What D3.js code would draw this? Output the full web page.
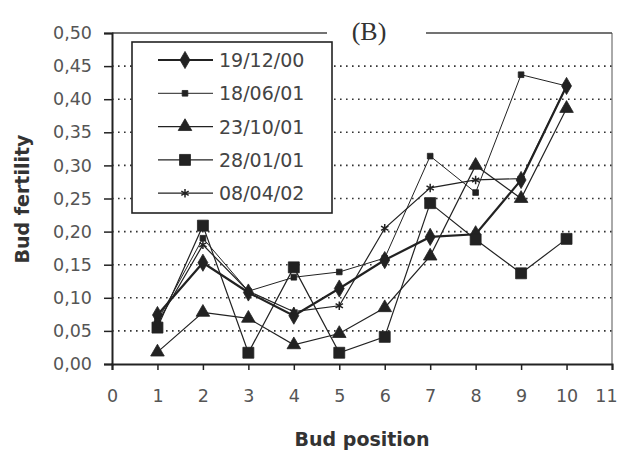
<!DOCTYPE html>
<html lang="en">
<head>
<meta charset="UTF-8">
<title>Bud fertility (B)</title>
<script src="https://d3js.org/d3.v7.min.js"></script>
<style>
  body { margin: 0; background: #fff; }
  .tick text { font-family: "DejaVu Sans", Verdana, sans-serif; font-size: 17.5px; fill: #555; }
  .axis-label { font-family: "DejaVu Sans", Verdana, sans-serif; font-size: 19px; font-weight: bold; fill: #333; }
  .legend text { font-family: "DejaVu Sans", Verdana, sans-serif; font-size: 19px; fill: #444; }
</style>
</head>
<body>
<div id="chart"></div>
<script>
// data
const positions = [1, 2, 3, 4, 5, 6, 7, 8, 9, 10];
const s191200 = [0.074, 0.153, 0.108, 0.073, 0.114, 0.157, 0.192, 0.196, 0.278, 0.420];
const s180601 = [0.065, 0.190, 0.110, 0.131, 0.139, 0.160, 0.314, 0.259, 0.437, 0.420];
const s231001 = [0.018, 0.078, 0.069, 0.029, 0.046, 0.085, 0.163, 0.300, 0.250, 0.386];
const s280101 = [0.055, 0.209, 0.017, 0.146, 0.017, 0.041, 0.243, 0.188, 0.137, 0.189];
const s080402 = [0.062, 0.180, 0.110, 0.079, 0.088, 0.205, 0.266, 0.278, 0.280, 0.420];
const seriesNames = ["19/12/00", "18/06/01", "23/10/01", "28/01/01", "08/04/02"];
const xTicks = [0, 1, 2, 3, 4, 5, 6, 7, 8, 9, 10, 11];
const yTicks = [0, 0.05, 0.10, 0.15, 0.20, 0.25, 0.30, 0.35, 0.40, 0.45, 0.50];
const gridValues = [0.05, 0.10, 0.15, 0.20, 0.25, 0.30, 0.35, 0.40, 0.45];

const series = [
  { name: seriesNames[0], values: s191200, symbol: d3.symbolDiamond, size: 85, width: 2.2, fill: "#222" },
  { name: seriesNames[1], values: s180601, symbol: d3.symbolSquare, size: 32, width: 1, fill: "#222" },
  { name: seriesNames[2], values: s231001, symbol: d3.symbolTriangle, size: 80, width: 1.2, fill: "#222" },
  { name: seriesNames[3], values: s280101, symbol: d3.symbolSquare, size: 120, width: 1.2, fill: "#222" },
  { name: seriesNames[4], values: s080402, symbol: d3.symbolAsterisk, size: 50, width: 1.2, fill: "none" }
];

const W = 619, H = 452;
const plotLeft = 112, plotRight = 612, plotTop = 33, plotBottom = 364;

const svg = d3.select("#chart").append("svg")
  .attr("width", W).attr("height", H);

const x = d3.scaleLinear().domain([0, 11]).range([plotLeft, plotRight]);
const y = d3.scaleLinear().domain([0, 0.5]).range([plotBottom, plotTop]);

const loc = d3.formatLocale({ decimal: ",", thousands: ".", grouping: [3], currency: ["", ""] });
const yFmt = loc.format(".2f");

// dotted gridlines
svg.append("g").selectAll("line")
  .data(gridValues)
  .join("line")
  .attr("x1", plotLeft).attr("x2", plotRight)
  .attr("y1", d => y(d)).attr("y2", d => y(d))
  .attr("stroke", "#333").attr("stroke-width", 1.6)
  .attr("stroke-dasharray", "1.6 4.4");

// frame: right side and top (broken for the title)
svg.append("line").attr("x1", plotRight).attr("x2", plotRight).attr("y1", plotTop).attr("y2", plotBottom)
  .attr("stroke", "#555").attr("stroke-width", 1);
svg.append("line").attr("x1", plotLeft).attr("x2", 327).attr("y1", plotTop).attr("y2", plotTop)
  .attr("stroke", "#444").attr("stroke-width", 1.3);
svg.append("line").attr("x1", 426).attr("x2", plotRight).attr("y1", plotTop).attr("y2", plotTop)
  .attr("stroke", "#444").attr("stroke-width", 1.3);

// axes
const yAxis = svg.append("g")
  .attr("transform", `translate(${plotLeft},0)`)
  .call(d3.axisLeft(y).tickValues(yTicks).tickFormat(yFmt).tickSize(8).tickPadding(12));
const xAxis = svg.append("g")
  .attr("transform", `translate(0,${plotBottom})`)
  .call(d3.axisBottom(x).tickValues(xTicks).tickFormat(d3.format("d")).tickSize(6).tickPadding(20));
[yAxis, xAxis].forEach(a => {
  a.select(".domain").attr("stroke", "#222").attr("stroke-width", 2);
  a.selectAll(".tick line").attr("stroke", "#222").attr("stroke-width", 1.5);
});
xAxis.selectAll(".tick text").filter(d => d === 11).attr("dx", -6);

// series lines and markers
const line = d3.line().x((d, i) => x(positions[i])).y(d => y(d));
series.forEach(s => {
  svg.append("path")
    .datum(s.values)
    .attr("fill", "none")
    .attr("stroke", "#222")
    .attr("stroke-width", s.width)
    .attr("d", line);
});
series.forEach(s => {
  svg.append("g").selectAll("path")
    .data(s.values)
    .join("path")
    .attr("transform", (d, i) => `translate(${x(positions[i])},${y(d)})`)
    .attr("d", d3.symbol(s.symbol, s.size))
    .attr("fill", s.fill)
    .attr("stroke", "#222")
    .attr("stroke-width", s.fill === "none" ? 1.5 : 0.8);
});

// legend
const lg = svg.append("g").attr("class", "legend");
lg.append("rect").attr("x", 132).attr("y", 42).attr("width", 200).attr("height", 171)
  .attr("fill", "#fff").attr("stroke", "#222").attr("stroke-width", 1.6);
series.forEach((s, i) => {
  const cy = 60 + i * 33.3;
  lg.append("line").attr("x1", 158).attr("x2", 213).attr("y1", cy).attr("y2", cy)
    .attr("stroke", "#222").attr("stroke-width", s.width);
  lg.append("path").attr("transform", `translate(185,${cy})`)
    .attr("d", d3.symbol(s.symbol, s.size))
    .attr("fill", s.fill).attr("stroke", "#222")
    .attr("stroke-width", s.fill === "none" ? 1.5 : 0.8);
  lg.append("text").attr("x", 219).attr("y", cy + 7).text(s.name);
});

// title and axis labels
svg.append("text").attr("x", 369).attr("y", 40).attr("text-anchor", "middle")
  .attr("font-family", "'Liberation Serif', 'Times New Roman', serif")
  .attr("font-size", 26).attr("fill", "#333").text("(B)");
svg.append("text").attr("class", "axis-label")
  .attr("x", 362).attr("y", 446).attr("text-anchor", "middle").text("Bud position");
svg.append("text").attr("class", "axis-label")
  .attr("transform", "rotate(-90)")
  .attr("x", -199).attr("y", 29).attr("text-anchor", "middle").text("Bud fertility");
</script>
</body>
</html>
